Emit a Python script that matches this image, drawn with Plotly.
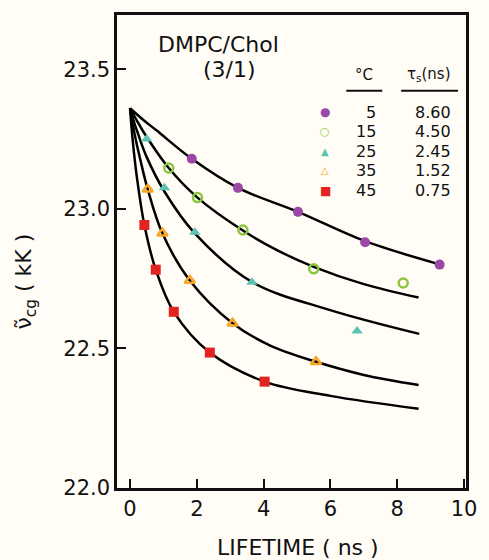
import plotly.graph_objects as go

# ---- data ----
temps = ["5", "15", "25", "35", "45"]
tau_s = ["8.60", "4.50", "2.45", "1.52", "0.75"]
colors = ["#9a48a6", "#8cc63e", "#5ec3b3", "#f6a623", "#e32320"]
symbols = ["circle", "circle-open", "triangle-up", "triangle-up-open", "square"]
legend_glyphs = ["●", "<b>○</b>", "▲", "<b>△</b>", "■"]
legend_glyph_sizes = [12, 11, 10, 10, 12]

# measured points (lifetime ns, nu_cg kK)
pts_x = [
    [1.85, 3.23, 5.03, 7.04, 9.27],
    [1.16, 2.02, 3.38, 5.50, 8.18],
    [0.50, 1.03, 1.94, 3.65, 6.80],
    [0.53, 0.97, 1.79, 3.07, 5.57],
    [0.43, 0.77, 1.31, 2.39, 4.03],
]
pts_y = [
    [23.179, 23.075, 22.989, 22.880, 22.800],
    [23.146, 23.040, 22.924, 22.785, 22.734],
    [23.250, 23.075, 22.916, 22.737, 22.562],
    [23.070, 22.912, 22.743, 22.590, 22.452],
    [22.942, 22.782, 22.631, 22.485, 22.381],
]

# fitted curves
curve_x = [
    [0, 0.4, 0.8, 1.85, 3.23, 5.03, 7.04, 9.3],
    [0, 0.2, 0.4, 1.16, 2.02, 3.38, 4.4, 5.5, 7.0, 8.64],
    [0, 0.12, 0.25, 0.5, 1.03, 1.94, 3.65, 5.97, 8.66],
    [0, 0.07, 0.15, 0.3, 0.53, 0.97, 1.79, 3.07, 4.2, 5.57, 7.0, 8.64],
    [0, 0.05, 0.1, 0.2, 0.43, 0.77, 1.31, 2.39, 4.03, 6.0, 8.64],
]
curve_y = [
    [23.36, 23.318, 23.28, 23.179, 23.075, 22.989, 22.884, 22.80],
    [23.36, 23.317, 23.276, 23.146, 23.040, 22.922, 22.852, 22.792, 22.730, 22.682],
    [23.36, 23.31, 23.265, 23.185, 23.062, 22.912, 22.738, 22.638, 22.552],
    [23.36, 23.31, 23.26, 23.18, 23.07, 22.912, 22.743, 22.590, 22.510, 22.452, 22.405, 22.369],
    [23.36, 23.285, 23.222, 23.118, 22.942, 22.782, 22.631, 22.485, 22.381, 22.330, 22.284],
]

x_ticks = [0, 2, 4, 6, 8, 10]
y_ticks = [22.0, 22.5, 23.0, 23.5]

FONT = "DejaVu Sans"
BG = "#fffdf6"
INK = "#111"

fig = go.Figure()
for cx, cy in zip(curve_x, curve_y):
    fig.add_trace(go.Scatter(x=cx, y=cy, mode="lines",
                             line=dict(color="black", width=2.5, shape="spline", smoothing=1.0),
                             showlegend=False, hoverinfo="skip"))
for px, py, c, s in zip(pts_x, pts_y, colors, symbols):
    open_ = "open" in s
    fig.add_trace(go.Scatter(x=px, y=py, mode="markers", showlegend=False,
                             marker=dict(symbol=s, size=10 if not open_ else 9, color=c,
                                         line=dict(color=c, width=2.5 if open_ else 0))))


def txt(x, y, text, size, color=INK, xa="center", ya="middle", angle=0):
    return dict(x=x, y=y, xref="paper", yref="paper", text=text, showarrow=False,
                xanchor=xa, yanchor=ya, textangle=angle,
                font=dict(family=FONT, size=size, color=color))


ann = [
    txt(0.291, 0.937, "DMPC/Chol", 22),
    txt(0.323, 0.884, "(3/1)", 22),
    txt(0.708, 0.874, "°C", 15),
    txt(0.894, 0.874, "τ<sub>s</sub>(ns)", 15),
]
row_y = [0.794, 0.754, 0.712, 0.672, 0.628]
for ry, g, gs, c, t, tau in zip(row_y, legend_glyphs, legend_glyph_sizes, colors, temps, tau_s):
    ann.append(txt(0.597, ry, g, gs, color=c))
    ann.append(txt(0.748, ry, t, 16, xa="right"))
    ann.append(txt(0.962, ry, tau, 16, xa="right"))
ann.append(txt(-0.263, 0.437, "ν\u0303<sub>cg</sub> ( kK )", 22, angle=-90))
ann.append(txt(0.52, -0.126, "LIFETIME ( ns )", 22))

shapes = [
    dict(type="line", xref="paper", yref="paper", x0=0.657, x1=0.76, y0=0.84, y1=0.84,
         line=dict(color=INK, width=2)),
    dict(type="line", xref="paper", yref="paper", x0=0.814, x1=0.977, y0=0.84, y1=0.84,
         line=dict(color=INK, width=2)),
]

fig.update_layout(
    width=489, height=560,
    margin=dict(l=117, r=22, t=12, b=72),
    paper_bgcolor=BG, plot_bgcolor=BG,
    annotations=ann, shapes=shapes,
    font=dict(family=FONT, color=INK),
)
axis_common = dict(ticks="inside", ticklen=9, tickwidth=2, tickcolor=INK, showline=True,
                   linecolor=INK, linewidth=2.5, mirror=True, showgrid=False, zeroline=False,
                   tickfont=dict(family=FONT, size=21, color=INK))
fig.update_xaxes(range=[-0.39, 10.06], tickvals=x_ticks, **axis_common)
fig.update_yaxes(range=[22.0, 23.694], tickvals=y_ticks, tickformat=".1f", **axis_common)

fig.write_html("out.html", config={"displayModeBar": False},
               post_script="document.body.style.margin='0';document.body.style.background='#fffdf6';")
